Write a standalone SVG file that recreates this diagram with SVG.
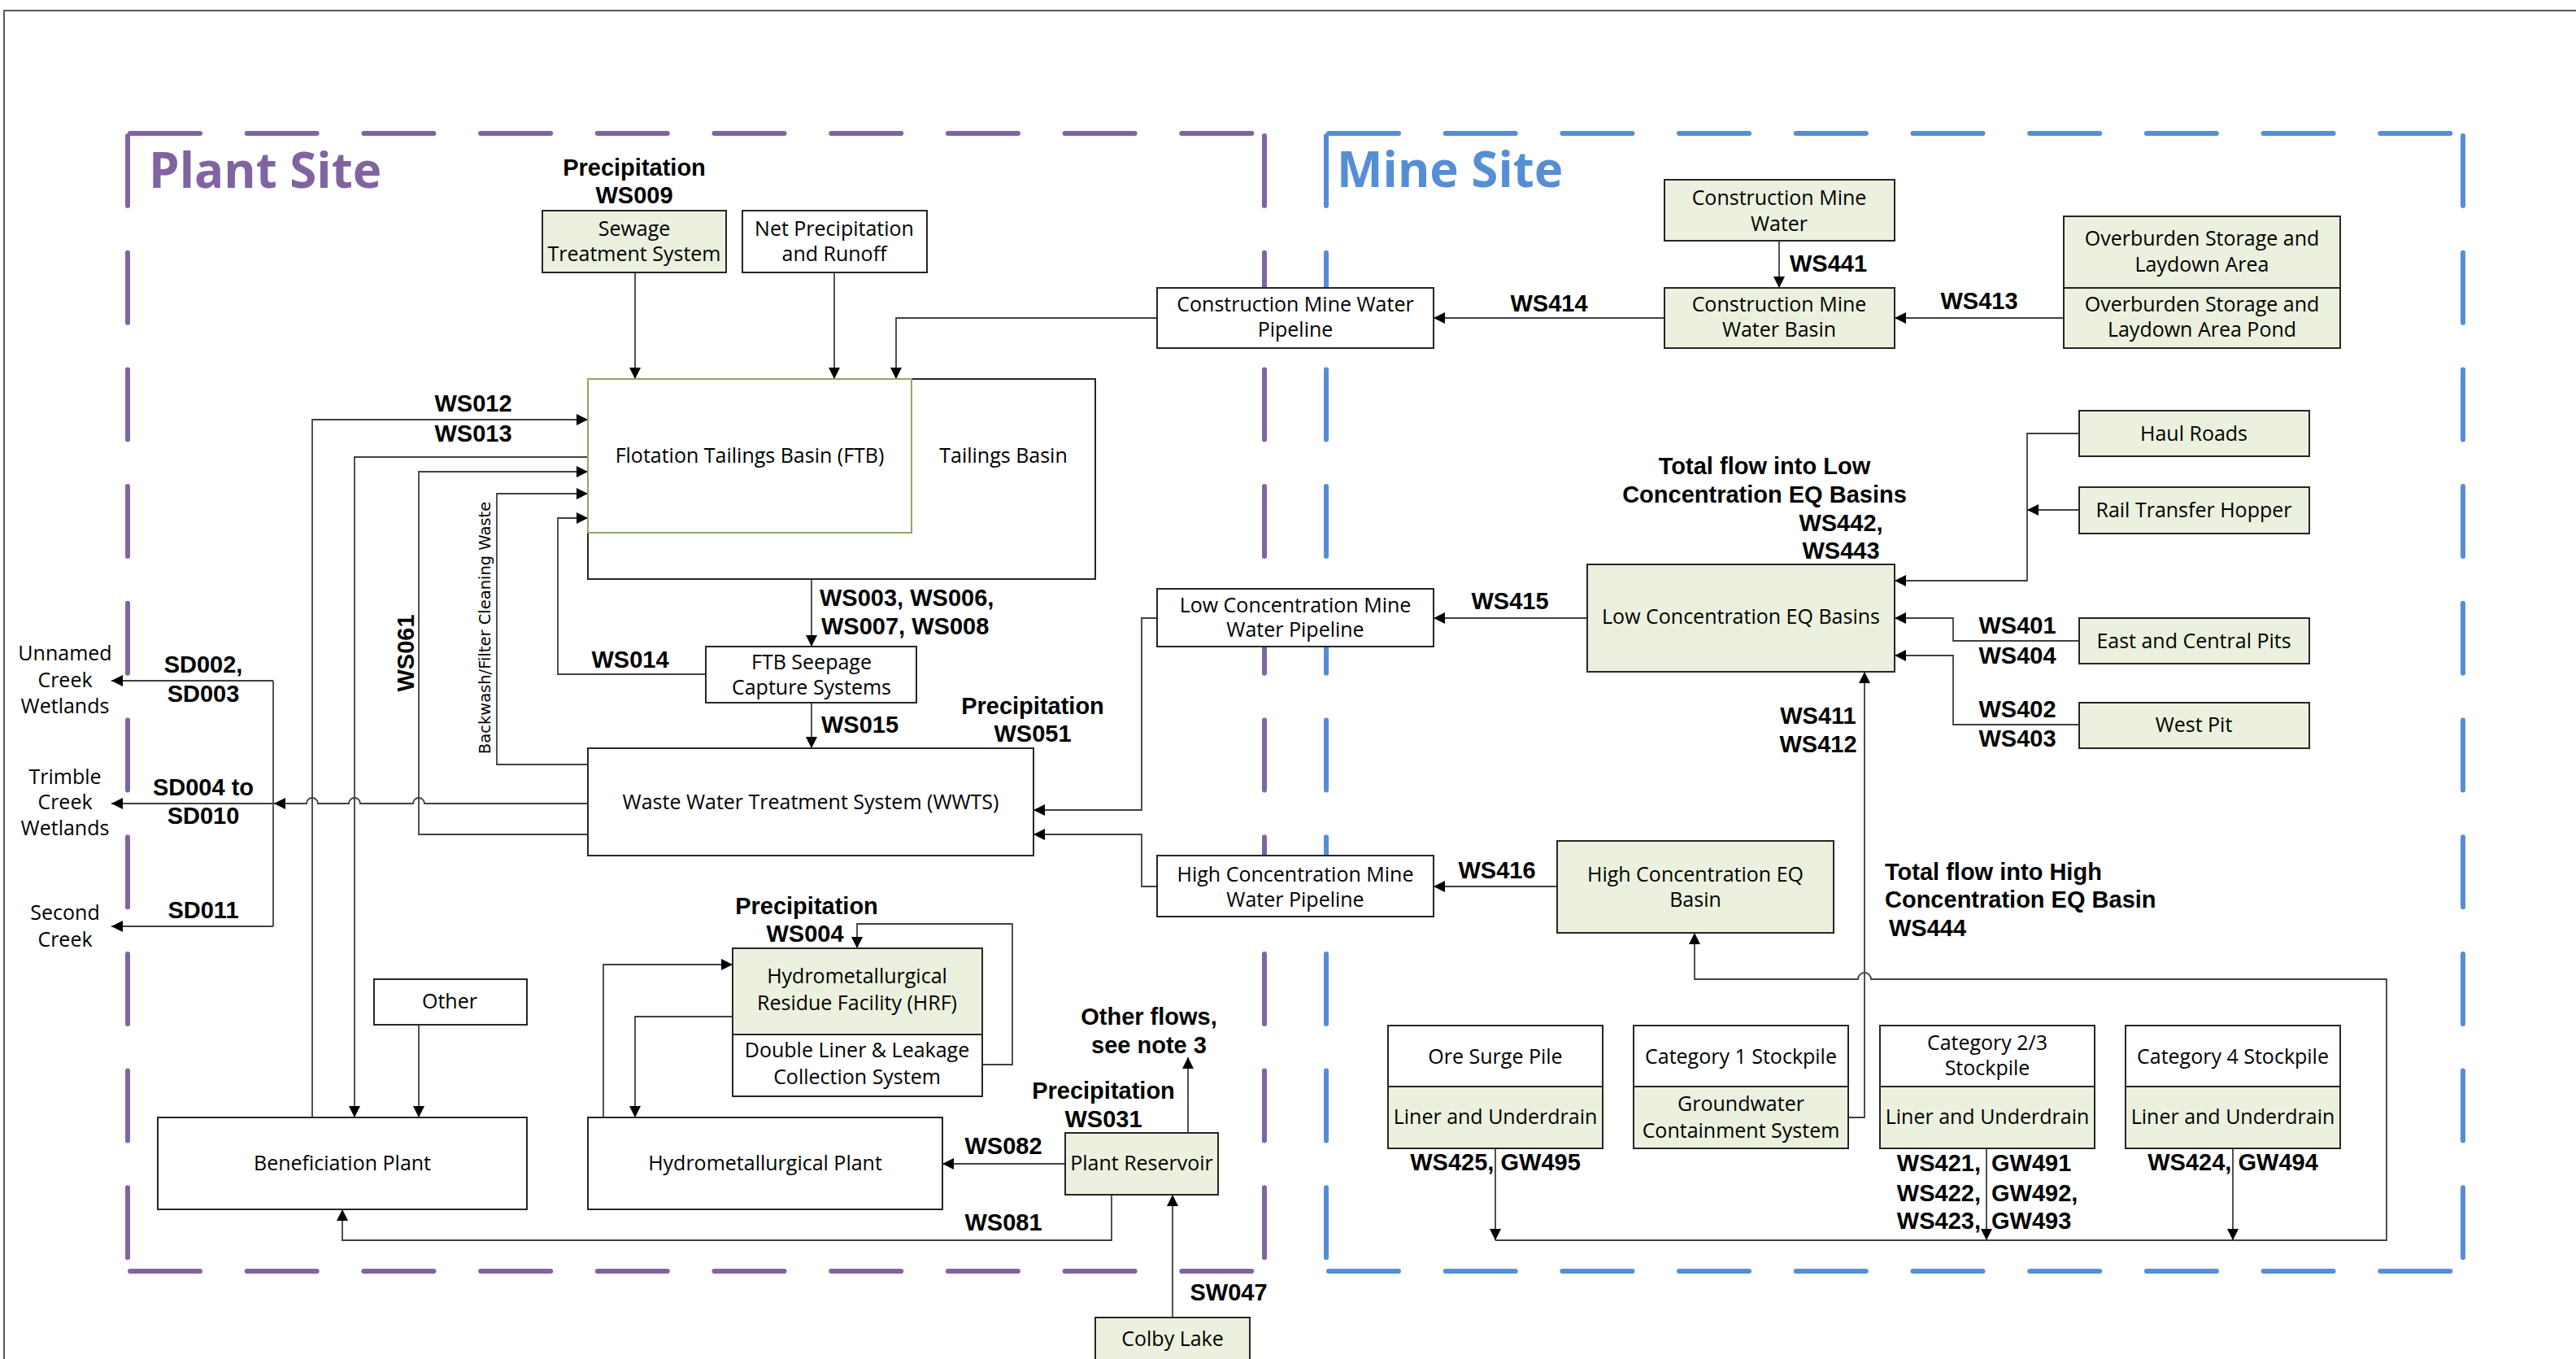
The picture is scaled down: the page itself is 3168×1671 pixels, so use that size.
<svg xmlns="http://www.w3.org/2000/svg" width="3168" height="1671" viewBox="0 0 3168 1671">
<defs>
<style>
.bx{fill:#fff;stroke:#262626;stroke-width:2}
.gr{fill:#EBF1DE;stroke:#262626;stroke-width:2}
.t{font-family:"Open Sans","Noto Sans","Liberation Sans",sans-serif;font-size:25px;text-anchor:middle;fill:#000}
.b{font-family:"Liberation Sans",Arial,sans-serif;font-size:29px;font-weight:700;text-anchor:middle;fill:#000}
.st{text-anchor:start}
.en{text-anchor:end}
.c{fill:none;stroke:#404040;stroke-width:1.8}
.a{marker-end:url(#ah)}
.pd{stroke:#8064A2;stroke-width:6;stroke-linecap:round;stroke-dasharray:86 57.7;fill:none}
.bd{stroke:#558ED5;stroke-width:6;stroke-linecap:round;stroke-dasharray:86 57.7;fill:none}
.ti{font-family:"Open Sans","Noto Sans","Liberation Sans",sans-serif;font-size:60px;font-weight:700}
.rv{font-family:"DejaVu Sans",Verdana,sans-serif;font-size:19.5px;text-anchor:middle;fill:#000}
</style>
<marker id="ah" markerUnits="userSpaceOnUse" markerWidth="16" markerHeight="16" refX="14" refY="7" orient="auto"><path d="M0,0 L14,7 L0,14 z" fill="#000"/></marker>
</defs>
<rect width="3168" height="1671" fill="#fff"/>
<path d="M5,1671 V13 H3168" fill="none" stroke="#595959" stroke-width="2"/>

<g id="plant-site-region">
<path class="pd" d="M160,164 H1555"/>
<path class="pd" d="M160,1563 H1555"/>
<path class="pd" d="M157,167 V1563"/>
<path class="pd" d="M1555,167 V1563"/>
<text class="ti" x="183" y="231" fill="#8064A2">Plant Site</text>
</g>
<g id="mine-site-region">
<path class="bd" d="M1634,164 H3029"/>
<path class="bd" d="M1634,1563 H3029"/>
<path class="bd" d="M1631,167 V1563"/>
<path class="bd" d="M3029,167 V1563"/>
<text class="ti" x="1644" y="230" fill="#558ED5">Mine Site</text>
</g>

<g id="connectors">
<path class="c a" d="M781,335 V466"/>
<path class="c a" d="M1026,335 V466"/>
<path class="c a" d="M1423,391 H1102 V466"/>
<path class="c a" d="M384,1374 V516 H723"/>
<path class="c a" d="M723,562 H436 V1374"/>
<path class="c a" d="M723,1026 H515 V580 H723"/>
<path class="c a" d="M723,940 H611 V607 H723"/>
<path class="c a" d="M868,829 H686 V637 H723"/>
<path class="c a" d="M998,712 V795"/>
<path class="c a" d="M998,864 V920"/>
<path class="c a" d="M723,988 H522 A7,7 0 0 0 508,988 H443 A7,7 0 0 0 429,988 H391 A7,7 0 0 0 377,988 H337"/>
<path class="c" d="M336,837 V1139"/>
<path class="c a" d="M336,837 H137"/>
<path class="c a" d="M336,988 H137"/>
<path class="c a" d="M336,1139 H137"/>
<path class="c a" d="M515,1260 V1374"/>
<path class="c a" d="M1367,1469 V1525 H421 V1487"/>
<path class="c a" d="M1310,1431 H1159"/>
<path class="c a" d="M1461,1393 V1300"/>
<path class="c a" d="M1442,1620 V1469"/>
<path class="c a" d="M742,1374 V1186 H901"/>
<path class="c a" d="M901,1250 H781 V1374"/>
<path class="c a" d="M1208,1309 H1245 V1136 H1054 V1166"/>
<path class="c a" d="M1423,760 H1404 V996 H1271"/>
<path class="c a" d="M1423,1090 H1404 V1026 H1271"/>
<path class="c a" d="M2188,296 V354"/>
<path class="c a" d="M2047,391 H1763"/>
<path class="c a" d="M2538,391 H2330"/>
<path class="c a" d="M2557,533 H2493 V714 H2330"/>
<path class="c a" d="M2557,627 H2493"/>
<path class="c a" d="M2557,788 H2402 V760 H2330"/>
<path class="c a" d="M2557,891 H2402 V806 H2330"/>
<path class="c a" d="M1952,760 H1763"/>
<path class="c a" d="M1915,1090 H1763"/>
<path class="c a" d="M2273,1374 H2293 V826"/>
<path class="c a" d="M1839,1412 V1525"/>
<path class="c a" d="M2443,1412 V1525"/>
<path class="c a" d="M2746,1412 V1525"/>
<path class="c a" d="M1839,1525 H2935 V1204 H2301 A8,8 0 0 0 2285,1204 H2084 V1147"/>
</g>

<g id="connector-labels">
<text class="b" x="780" y="216">Precipitation</text>
<text class="b" x="780" y="250">WS009</text>
<text class="b" x="582" y="506">WS012</text>
<text class="b" x="582" y="543">WS013</text>
<text class="b" x="775" y="821">WS014</text>
<text class="b st" x="1008" y="745">WS003, WS006,</text>
<text class="b st" x="1010" y="780">WS007, WS008</text>
<text class="b st" x="1010" y="901">WS015</text>
<text class="b" x="1270" y="878">Precipitation</text>
<text class="b" x="1270" y="912">WS051</text>
<text class="b" transform="translate(509,803) rotate(-90)">WS061</text>
<text class="rv" transform="translate(603,772) rotate(-90)">Backwash/Filter Cleaning Waste</text>
<text class="b" x="250" y="827">SD002,</text>
<text class="b" x="250" y="863">SD003</text>
<text class="b" x="250" y="978">SD004 to</text>
<text class="b" x="250" y="1013">SD010</text>
<text class="b" x="250" y="1129">SD011</text>
<text class="b" x="992" y="1124">Precipitation</text>
<text class="b" x="990" y="1158">WS004</text>
<text class="b" x="1234" y="1419">WS082</text>
<text class="b" x="1234" y="1513">WS081</text>
<text class="b" x="1413" y="1260">Other flows,</text>
<text class="b" x="1413" y="1295">see note 3</text>
<text class="b" x="1357" y="1351">Precipitation</text>
<text class="b" x="1357" y="1386">WS031</text>
<text class="b" x="1511" y="1599">SW047</text>
<text class="b st" x="2201" y="334">WS441</text>
<text class="b" x="1905" y="383">WS414</text>
<text class="b" x="2434" y="380">WS413</text>
<text class="b" x="2481" y="779">WS401</text>
<text class="b" x="2481" y="816">WS404</text>
<text class="b" x="2481" y="882">WS402</text>
<text class="b" x="2481" y="918">WS403</text>
<text class="b" x="2170" y="583">Total flow into Low</text>
<text class="b" x="2170" y="618">Concentration EQ Basins</text>
<text class="b" x="2264" y="653">WS442,</text>
<text class="b" x="2264" y="687">WS443</text>
<text class="b" x="1857" y="749">WS415</text>
<text class="b" x="2236" y="890">WS411</text>
<text class="b" x="2236" y="925">WS412</text>
<text class="b" x="1841" y="1080">WS416</text>
<text class="b st" x="2318" y="1082">Total flow into High</text>
<text class="b st" x="2318" y="1116">Concentration EQ Basin</text>
<text class="b st" x="2323" y="1151">WS444</text>
<text class="b" x="1839" y="1439">WS425, GW495</text>
<text class="b en" x="2436" y="1440">WS421,</text>
<text class="b en" x="2436" y="1477">WS422,</text>
<text class="b en" x="2436" y="1511">WS423,</text>
<text class="b st" x="2449" y="1440">GW491</text>
<text class="b st" x="2449" y="1477">GW492,</text>
<text class="b st" x="2449" y="1511">GW493</text>
<text class="b" x="2746" y="1439">WS424, GW494</text>
</g>

<g id="sewage-treatment"><rect class="gr" x="667" y="259" width="226" height="76"/><text class="t" x="780" y="290">Sewage</text><text class="t" x="780" y="321">Treatment System</text></g>
<g id="net-precipitation"><rect class="bx" x="913" y="259" width="227" height="76"/><text class="t" x="1026" y="290">Net Precipitation</text><text class="t" x="1026" y="321">and Runoff</text></g>
<g id="tailings-basin"><rect class="bx" x="723" y="466" width="624" height="246"/><rect x="723" y="466" width="398" height="189" fill="none" stroke="#8FA866" stroke-width="2"/><text class="t" x="922" y="569">Flotation Tailings Basin (FTB)</text><text class="t" x="1234" y="569">Tailings Basin</text></g>
<g id="ftb-seepage"><rect class="bx" x="868" y="795" width="259" height="69"/><text class="t" x="998" y="823">FTB Seepage</text><text class="t" x="998" y="854">Capture Systems</text></g>
<g id="wwts"><rect class="bx" x="723" y="920" width="548" height="132"/><text class="t" x="997" y="995">Waste Water Treatment System (WWTS)</text></g>
<g id="unnamed-creek"><text class="t" x="80" y="812">Unnamed</text><text class="t" x="80" y="845">Creek</text><text class="t" x="80" y="877">Wetlands</text></g>
<g id="trimble-creek"><text class="t" x="80" y="964">Trimble</text><text class="t" x="80" y="995">Creek</text><text class="t" x="80" y="1027">Wetlands</text></g>
<g id="second-creek"><text class="t" x="80" y="1131">Second</text><text class="t" x="80" y="1164">Creek</text></g>
<g id="other"><rect class="bx" x="460" y="1204" width="188" height="56"/><text class="t" x="553" y="1240">Other</text></g>
<g id="beneficiation-plant"><rect class="bx" x="194" y="1374" width="454" height="113"/><text class="t" x="421" y="1439">Beneficiation Plant</text></g>
<g id="hrf"><rect class="gr" x="901" y="1166" width="307" height="106"/><rect class="bx" x="901" y="1272" width="307" height="76"/><text class="t" x="1054" y="1209">Hydrometallurgical</text><text class="t" x="1054" y="1242">Residue Facility (HRF)</text><text class="t" x="1054" y="1300">Double Liner &amp; Leakage</text><text class="t" x="1054" y="1333">Collection System</text></g>
<g id="hydromet-plant"><rect class="bx" x="723" y="1374" width="436" height="113"/><text class="t" x="941" y="1439">Hydrometallurgical Plant</text></g>
<g id="plant-reservoir"><rect class="gr" x="1310" y="1393" width="188" height="76"/><text class="t" x="1404" y="1439">Plant Reservoir</text></g>
<g id="colby-lake"><rect class="gr" x="1347" y="1620" width="190" height="70"/><text class="t" x="1442" y="1655">Colby Lake</text></g>

<g id="cmw-pipeline"><rect class="bx" x="1423" y="354" width="340" height="74"/><text class="t" x="1593" y="383">Construction Mine Water</text><text class="t" x="1593" y="414">Pipeline</text></g>
<g id="low-pipeline"><rect class="bx" x="1423" y="724" width="340" height="71"/><text class="t" x="1593" y="753">Low Concentration Mine</text><text class="t" x="1593" y="783">Water Pipeline</text></g>
<g id="high-pipeline"><rect class="bx" x="1423" y="1052" width="340" height="75"/><text class="t" x="1593" y="1084">High Concentration Mine</text><text class="t" x="1593" y="1115">Water Pipeline</text></g>
<g id="cmw"><rect class="gr" x="2047" y="221" width="283" height="75"/><text class="t" x="2188" y="252">Construction Mine</text><text class="t" x="2188" y="284">Water</text></g>
<g id="cmw-basin"><rect class="gr" x="2047" y="354" width="283" height="74"/><text class="t" x="2188" y="383">Construction Mine</text><text class="t" x="2188" y="414">Water Basin</text></g>
<g id="overburden"><rect class="gr" x="2538" y="266" width="340" height="88"/><rect class="gr" x="2538" y="354" width="340" height="74"/><text class="t" x="2708" y="302">Overburden Storage and</text><text class="t" x="2708" y="334">Laydown Area</text><text class="t" x="2708" y="383">Overburden Storage and</text><text class="t" x="2708" y="414">Laydown Area Pond</text></g>
<g id="haul-roads"><rect class="gr" x="2557" y="505" width="283" height="56"/><text class="t" x="2698" y="542">Haul Roads</text></g>
<g id="rail-hopper"><rect class="gr" x="2557" y="599" width="283" height="57"/><text class="t" x="2698" y="636">Rail Transfer Hopper</text></g>
<g id="east-central-pits"><rect class="gr" x="2557" y="760" width="283" height="56"/><text class="t" x="2698" y="797">East and Central Pits</text></g>
<g id="west-pit"><rect class="gr" x="2557" y="864" width="283" height="56"/><text class="t" x="2698" y="900">West Pit</text></g>
<g id="lceq"><rect class="gr" x="1952" y="694" width="378" height="132"/><text class="t" x="2141" y="767">Low Concentration EQ Basins</text></g>
<g id="hceq"><rect class="gr" x="1915" y="1034" width="340" height="113"/><text class="t" x="2085" y="1084">High Concentration EQ</text><text class="t" x="2085" y="1115">Basin</text></g>
<g id="ore-surge"><rect class="bx" x="1707" y="1261" width="264" height="75"/><rect class="gr" x="1707" y="1336" width="264" height="76"/><text class="t" x="1839" y="1308">Ore Surge Pile</text><text class="t" x="1839" y="1382">Liner and Underdrain</text></g>
<g id="cat1"><rect class="bx" x="2009" y="1261" width="264" height="75"/><rect class="gr" x="2009" y="1336" width="264" height="76"/><text class="t" x="2141" y="1308">Category 1 Stockpile</text><text class="t" x="2141" y="1366">Groundwater</text><text class="t" x="2141" y="1399">Containment System</text></g>
<g id="cat23"><rect class="bx" x="2312" y="1261" width="264" height="75"/><rect class="gr" x="2312" y="1336" width="264" height="76"/><text class="t" x="2444" y="1291">Category 2/3</text><text class="t" x="2444" y="1322">Stockpile</text><text class="t" x="2444" y="1382">Liner and Underdrain</text></g>
<g id="cat4"><rect class="bx" x="2614" y="1261" width="264" height="75"/><rect class="gr" x="2614" y="1336" width="264" height="76"/><text class="t" x="2746" y="1308">Category 4 Stockpile</text><text class="t" x="2746" y="1382">Liner and Underdrain</text></g>
</svg>
